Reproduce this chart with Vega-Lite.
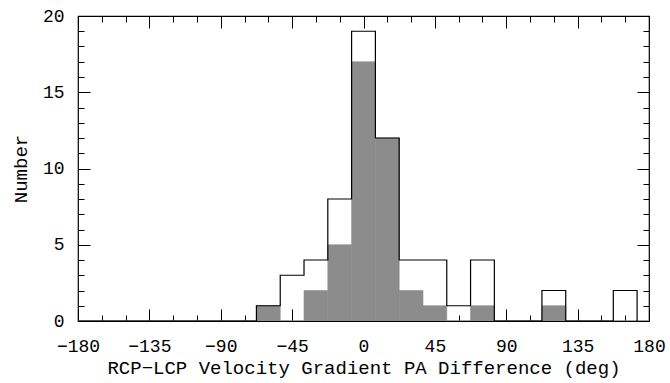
{
  "$schema": "https://vega.github.io/schema/vega-lite/v6.json",
  "autosize": {"type": "none"},
  "padding": {"left": 78, "top": 16, "right": 21, "bottom": 62},
  "width": 571,
  "height": 305,
  "background": "white",
  "config": {
    "view": {"stroke": "black", "strokeWidth": 1.2},
    "axis": {
      "domain": false,
      "grid": false,
      "ticks": true,
      "tickColor": "black",
      "tickWidth": 1,
      "labelFont": "Liberation Mono",
      "labelFontSize": 18,
      "labelColor": "black",
      "titleFont": "Liberation Mono",
      "titleFontSize": 19,
      "titleFontWeight": "normal",
      "titleColor": "black"
    }
  },
  "data": {
    "values": [
      {"lo": -180, "hi": -67.5, "total": 0, "gray": 0},
      {"lo": -67.5, "hi": -52.5, "total": 1, "gray": 1},
      {"lo": -52.5, "hi": -37.5, "total": 3, "gray": 0},
      {"lo": -37.5, "hi": -22.5, "total": 4, "gray": 2},
      {"lo": -22.5, "hi": -7.5, "total": 8, "gray": 5},
      {"lo": -7.5, "hi": 7.5, "total": 19, "gray": 17},
      {"lo": 7.5, "hi": 22.5, "total": 12, "gray": 12},
      {"lo": 22.5, "hi": 37.5, "total": 4, "gray": 2},
      {"lo": 37.5, "hi": 52.5, "total": 4, "gray": 1},
      {"lo": 52.5, "hi": 67.5, "total": 1, "gray": 0},
      {"lo": 67.5, "hi": 82.5, "total": 4, "gray": 1},
      {"lo": 82.5, "hi": 112.5, "total": 0, "gray": 0},
      {"lo": 112.5, "hi": 127.5, "total": 2, "gray": 1},
      {"lo": 127.5, "hi": 157.5, "total": 0, "gray": 0},
      {"lo": 157.5, "hi": 172.5, "total": 2, "gray": 0},
      {"lo": 172.5, "hi": 180, "total": 0, "gray": 0}
    ]
  },
  "resolve": {"axis": {"x": "independent", "y": "independent"}},
  "layer": [
    {
      "mark": {"type": "bar", "color": "#8c8c8c", "stroke": "#8c8c8c", "strokeWidth": 0.6, "clip": true},
      "encoding": {
        "x": {
          "field": "lo", "type": "quantitative",
          "scale": {"domain": [-180, 180], "nice": false, "zero": false},
          "axis": {
            "orient": "bottom",
            "values": [-180, -135, -90, -45, 0, 45, 90, 135, 180],
            "offset": -12,
            "tickSize": 12,
            "labelPadding": 16,
            "labelFlush": false,
            "title": "RCP−LCP Velocity Gradient PA Difference (deg)",
            "titlePadding": 3
          }
        },
        "x2": {"field": "hi"},
        "y": {
          "field": "gray", "type": "quantitative",
          "scale": {"domain": [0, 20], "nice": false},
          "axis": {
            "orient": "left",
            "values": [0, 5, 10, 15, 20],
            "offset": -12,
            "tickSize": 12,
            "labelPadding": 14,
            "labelFlush": false,
            "title": "Number",
            "titlePadding": 12
          }
        },
        "y2": {"datum": 0}
      }
    },
    {
      "mark": {"type": "line", "interpolate": "step-after", "color": "black", "strokeWidth": 1.2, "clip": true},
      "encoding": {
        "x": {
          "field": "lo", "type": "quantitative",
          "axis": {
            "orient": "bottom",
            "values": [-165, -150, -120, -105, -75, -60, -30, -15, 15, 30, 60, 75, 105, 120, 150, 165],
            "offset": -6, "tickSize": 6, "labels": false, "title": null
          }
        },
        "y": {
          "field": "total", "type": "quantitative",
          "axis": {
            "orient": "left",
            "values": [1, 2, 3, 4, 6, 7, 8, 9, 11, 12, 13, 14, 16, 17, 18, 19],
            "offset": -6, "tickSize": 6, "labels": false, "title": null
          }
        }
      }
    },
    {
      "mark": {"type": "line", "opacity": 0},
      "encoding": {
        "x": {
          "field": "lo", "type": "quantitative",
          "axis": {
            "orient": "top",
            "values": [-180, -135, -90, -45, 0, 45, 90, 135, 180],
            "offset": -12, "tickSize": 12, "labels": false, "title": null
          }
        },
        "y": {
          "field": "total", "type": "quantitative",
          "axis": {
            "orient": "right",
            "values": [0, 5, 10, 15, 20],
            "offset": -12, "tickSize": 12, "labels": false, "title": null
          }
        }
      }
    },
    {
      "mark": {"type": "line", "opacity": 0},
      "encoding": {
        "x": {
          "field": "lo", "type": "quantitative",
          "axis": {
            "orient": "top",
            "values": [-165, -150, -120, -105, -75, -60, -30, -15, 15, 30, 60, 75, 105, 120, 150, 165],
            "offset": -6, "tickSize": 6, "labels": false, "title": null
          }
        },
        "y": {
          "field": "total", "type": "quantitative",
          "axis": {
            "orient": "right",
            "values": [1, 2, 3, 4, 6, 7, 8, 9, 11, 12, 13, 14, 16, 17, 18, 19],
            "offset": -6, "tickSize": 6, "labels": false, "title": null
          }
        }
      }
    }
  ]
}
